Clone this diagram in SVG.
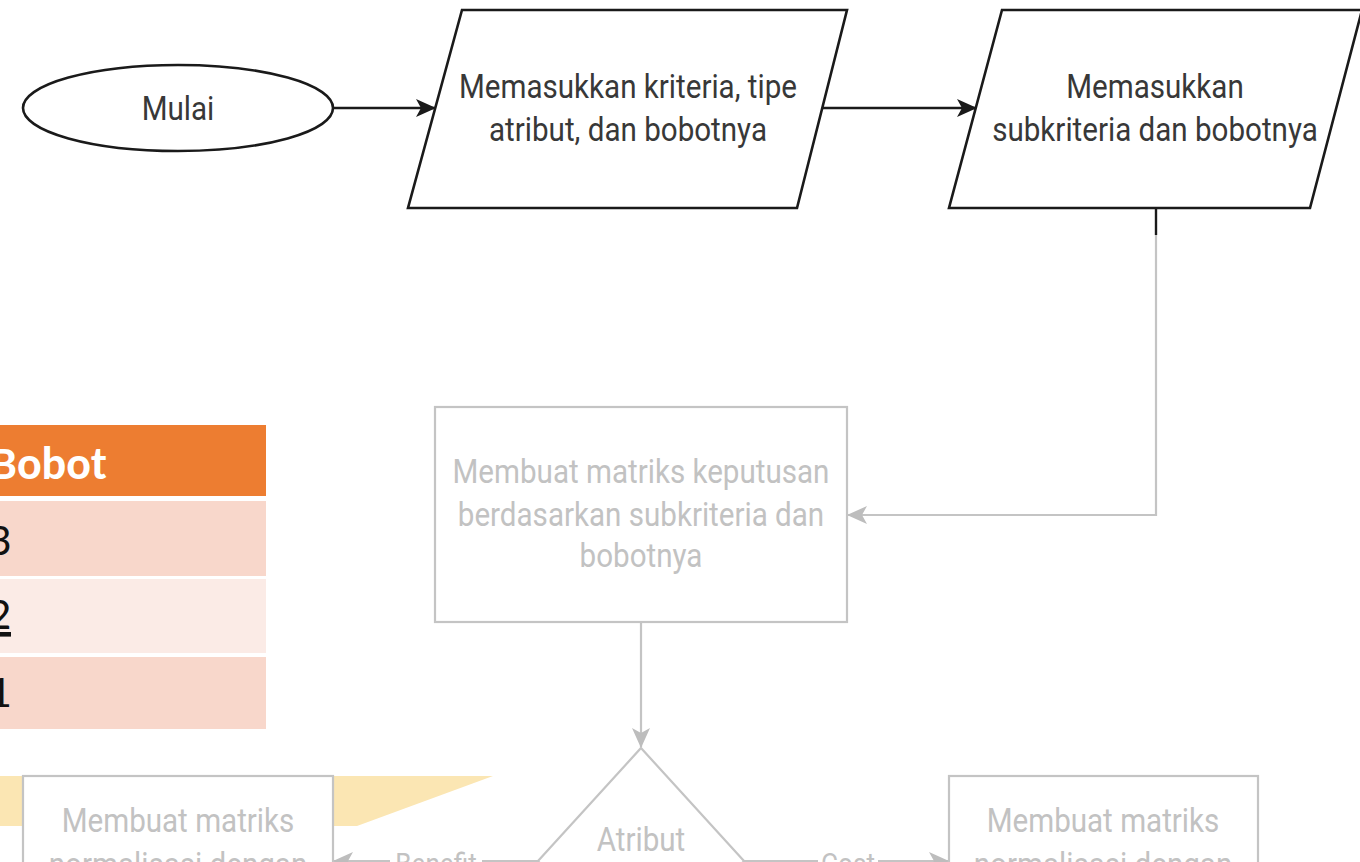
<svg xmlns="http://www.w3.org/2000/svg" width="1360" height="862" viewBox="0 0 1360 862">
  <style>
    .lbl { font-family: Roboto, "Liberation Sans", Arial, sans-serif; font-size: 34px; text-anchor: middle; }
    .dark { fill: #383838; }
    .faint { fill: #c2c2c2; }
    .ink { fill: #ffffff; stroke: #1a1a1a; stroke-width: 2.6; }
    .pale { fill: #ffffff; stroke: #c4c4c4; stroke-width: 2.2; }
    .wire-dark { fill: none; stroke: #1a1a1a; stroke-width: 2.4; }
    .wire-pale { fill: none; stroke: #c4c4c4; stroke-width: 2.2; }
    .tbl { font-family: Carlito, "Open Sans", "Liberation Sans", sans-serif; font-size: 46px; }
  </style>
  <defs>
    <marker id="headDark" markerUnits="userSpaceOnUse" markerWidth="20" markerHeight="18" viewBox="0 0 20 18" refX="19" refY="9" orient="auto">
      <path d="M0,0 L20,9 L0,18 L5,9 Z" fill="#1a1a1a"/>
    </marker>
    <marker id="headPale" markerUnits="userSpaceOnUse" markerWidth="20" markerHeight="18" viewBox="0 0 20 18" refX="19" refY="9" orient="auto">
      <path d="M0,0 L20,9 L0,18 L5,9 Z" fill="#bdbdbd"/>
    </marker>
  </defs>

  <rect width="1360" height="862" fill="#ffffff"/>

  <!-- weight table -->
  <g id="weight-table">
    <rect x="0" y="425" width="266" height="71" fill="#ED7D31"/>
    <rect x="0" y="501" width="266" height="75" fill="#F8D7CB"/>
    <rect x="0" y="579" width="266" height="74" fill="#FBEBE6"/>
    <rect x="0" y="657" width="266" height="72" fill="#F8D7CB"/>
    <text class="tbl" x="107" y="479" text-anchor="end" font-weight="bold" fill="#ffffff">Bobot</text>
    <text class="tbl" x="11" y="555" text-anchor="end" fill="#111111">3</text>
    <text class="tbl" x="11" y="629" text-anchor="end" fill="#111111" text-decoration="underline">2</text>
    <text class="tbl" x="11" y="707" text-anchor="end" fill="#111111">1</text>
  </g>

  <!-- yellow accent band -->
  <polygon points="0,776 493,776 357,826 0,826" fill="#FBE6B3"/>

  <!-- connectors -->
  <g id="connectors">
    <line class="wire-dark" x1="333" y1="108" x2="435" y2="108" marker-end="url(#headDark)"/>
    <line class="wire-dark" x1="822" y1="108" x2="976" y2="108" marker-end="url(#headDark)"/>
    <line class="wire-dark" x1="1156" y1="208" x2="1156" y2="235"/>
    <polyline class="wire-pale" points="1156,235 1156,515 848,515" marker-end="url(#headPale)"/>
    <line class="wire-pale" x1="641" y1="622" x2="641" y2="747" marker-end="url(#headPale)"/>
    <line class="wire-pale" x1="538" y1="861" x2="334" y2="861" marker-end="url(#headPale)"/>
    <line class="wire-pale" x1="744" y1="861" x2="948" y2="861" marker-end="url(#headPale)"/>
    <rect x="390" y="846" width="92" height="30" fill="#ffffff"/>
    <g transform="translate(436 0) scale(0.87 1)">
      <text class="lbl faint" x="0" y="874" style="font-size:30px">Benefit</text>
    </g>
    <rect x="818" y="846" width="60" height="30" fill="#ffffff"/>
    <g transform="translate(848 0) scale(0.87 1)">
      <text class="lbl faint" x="0" y="874" style="font-size:30px">Cost</text>
    </g>
  </g>

  <g id="node-mulai">
    <ellipse class="ink" cx="178" cy="108" rx="155" ry="43" stroke-width="3.4"/>
    <g transform="translate(178 0) scale(0.87 1)">
      <text class="lbl dark" x="0" y="120">Mulai</text>
    </g>
  </g>

  <g id="node-input-kriteria">
    <polygon class="ink" points="462,10 847,10 797,208 408,208"/>
    <g transform="translate(628 0) scale(0.87 1)">
      <text class="lbl dark" x="0" y="98">Memasukkan kriteria, tipe</text>
      <text class="lbl dark" x="0" y="141">atribut, dan bobotnya</text>
    </g>
  </g>

  <g id="node-input-subkriteria">
    <polygon class="ink" points="1002,10 1362,10 1310,208 949,208"/>
    <g transform="translate(1155 0) scale(0.87 1)">
      <text class="lbl dark" x="0" y="98">Memasukkan</text>
      <text class="lbl dark" x="0" y="141">subkriteria dan bobotnya</text>
    </g>
  </g>

  <g id="node-matriks-keputusan">
    <rect class="pale" x="435" y="407" width="412" height="215"/>
    <g transform="translate(641 0) scale(0.87 1)">
      <text class="lbl faint" x="0" y="483">Membuat matriks keputusan</text>
      <text class="lbl faint" x="0" y="526">berdasarkan subkriteria dan</text>
      <text class="lbl faint" x="0" y="567">bobotnya</text>
    </g>
  </g>

  <g id="node-atribut">
    <polygon class="pale" points="641,748 744,861 641,974 538,861"/>
    <g transform="translate(641 0) scale(0.87 1)">
      <text class="lbl faint" x="0" y="851">Atribut</text>
    </g>
  </g>

  <g id="node-normalisasi-benefit">
    <rect class="pale" x="23" y="776" width="310" height="200"/>
    <g transform="translate(178 0) scale(0.87 1)">
      <text class="lbl faint" x="0" y="832">Membuat matriks</text>
      <text class="lbl faint" x="0" y="876">normalisasi dengan</text>
    </g>
  </g>

  <g id="node-normalisasi-cost">
    <rect class="pale" x="949" y="776" width="309" height="200"/>
    <g transform="translate(1103 0) scale(0.87 1)">
      <text class="lbl faint" x="0" y="832">Membuat matriks</text>
      <text class="lbl faint" x="0" y="876">normalisasi dengan</text>
    </g>
  </g>
</svg>
